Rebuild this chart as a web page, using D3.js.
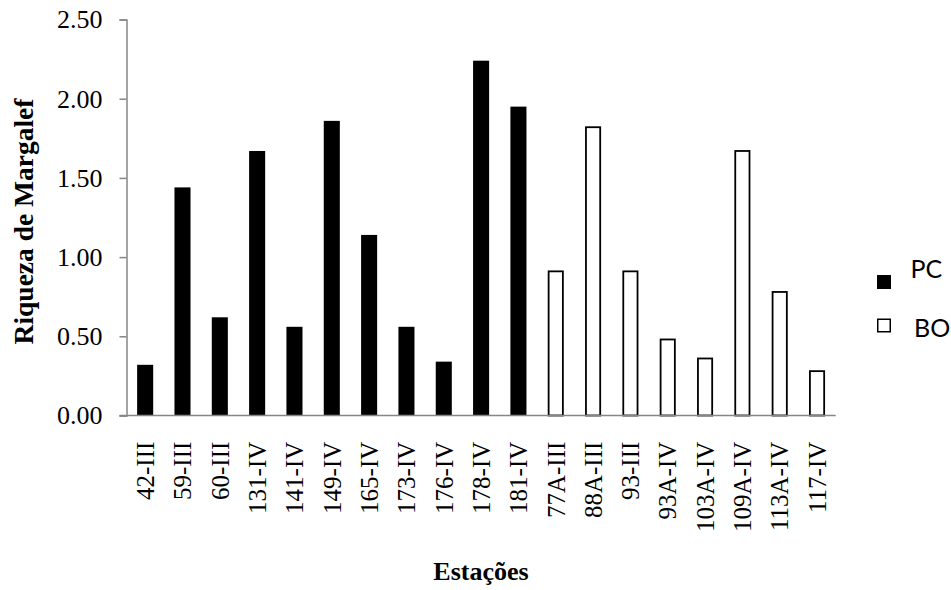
<!DOCTYPE html>
<html>
<head>
<meta charset="utf-8">
<script src="https://cdn.jsdelivr.net/npm/d3@7"></script>
<style>
  html, body { margin: 0; padding: 0; background: #fff; }
  svg { display: block; }
</style>
</head>
<body>
<svg id="chart" width="951" height="590"></svg>
<script>
const categories = ["42-III","59-III","60-III","131-IV","141-IV","149-IV","165-IV","173-IV","176-IV","178-IV","181-IV",
                    "77A-III","88A-III","93-III","93A-IV","103A-IV","109A-IV","113A-IV","117-IV"];
const groups = ["PC","PC","PC","PC","PC","PC","PC","PC","PC","PC","PC",
                "BO","BO","BO","BO","BO","BO","BO","BO"];
const values = [0.32,1.44,0.62,1.67,0.56,1.86,1.14,0.56,0.34,2.24,1.95,
                0.91,1.82,0.91,0.48,0.36,1.67,0.78,0.28];
const yTicks = [0, 0.5, 1.0, 1.5, 2.0, 2.5];
const seriesNames = ["PC","BO"];

const svg = d3.select("#chart");
const mLeft = 126.5, mRight = 835.7, mTop = 19.5, mBottom = 415.5;
const axisColor = "#868686";
const serif = "'Liberation Serif', 'Times New Roman', serif";

const x = d3.scaleBand().domain(categories).range([mLeft, mRight]).paddingInner(0.57).paddingOuter(0.285);
const y = d3.scaleLinear().domain([0, 2.5]).range([mBottom, mTop]);

// Y axis
const yAxis = svg.append("g").attr("transform", `translate(${mLeft},0)`)
  .call(d3.axisLeft(y).tickValues(yTicks).tickSize(7).tickPadding(17).tickFormat(d3.format(".2f")));
yAxis.select(".domain").attr("stroke", axisColor).attr("stroke-width", 1.5);
yAxis.selectAll(".tick line").attr("stroke", axisColor).attr("stroke-width", 1.5);
yAxis.selectAll(".tick text").attr("font-family", serif).attr("font-size", 26).attr("fill", "#000");

// Bars
svg.append("g").selectAll("rect").data(categories).join("rect")
  .attr("x", (d, i) => x(d) + (groups[i] === "BO" ? 0.9 : 0))
  .attr("width", (d, i) => x.bandwidth() - (groups[i] === "BO" ? 1.8 : 0))
  .attr("y", (d, i) => y(values[i]))
  .attr("height", (d, i) => y(0) - y(values[i]))
  .attr("fill", (d, i) => groups[i] === "PC" ? "#000" : "#fff")
  .attr("stroke", (d, i) => groups[i] === "PC" ? "none" : "#000")
  .attr("stroke-width", 1.8);

// X axis line
svg.append("line").attr("x1", mLeft - 7).attr("x2", mRight).attr("y1", mBottom).attr("y2", mBottom)
  .attr("stroke", axisColor).attr("stroke-width", 1.5);

// X labels
svg.append("g").selectAll("text").data(categories).join("text")
  .attr("transform", d => `translate(${x(d) + x.bandwidth() / 2},441.7) rotate(-90)`)
  .attr("dy", "0.35em")
  .attr("text-anchor", "end")
  .attr("font-family", serif).attr("font-size", 25)
  .text(d => d);

// Axis titles
svg.append("text")
  .attr("transform", `translate(33,221.5) rotate(-90)`)
  .attr("text-anchor", "middle")
  .attr("font-family", serif).attr("font-size", 27.5).attr("font-weight", "bold")
  .text("Riqueza de Margalef");

svg.append("text")
  .attr("x", 481).attr("y", 580)
  .attr("text-anchor", "middle")
  .attr("font-family", serif).attr("font-size", 26).attr("font-weight", "bold")
  .text("Estações");

// Legend
const legend = svg.append("g");
const legY = [275, 318.5];
const legTx = [910.5, 914];
const legTy = [278.3, 336.5];
seriesNames.forEach((s, i) => {
  legend.append("rect")
    .attr("x", i === 0 ? 877 : 877.75).attr("y", i === 0 ? legY[i] : legY[i] + 0.75)
    .attr("width", i === 0 ? 14 : 12.5).attr("height", i === 0 ? 14 : 12.5)
    .attr("fill", i === 0 ? "#000" : "#fff")
    .attr("stroke", i === 0 ? "none" : "#000").attr("stroke-width", 1.5);
  legend.append("text")
    .attr("x", legTx[i]).attr("y", legTy[i])
    .attr("font-family", "Lato, 'Open Sans', sans-serif").attr("font-size", 25)
    .text(s);
});
</script>
</body>
</html>
